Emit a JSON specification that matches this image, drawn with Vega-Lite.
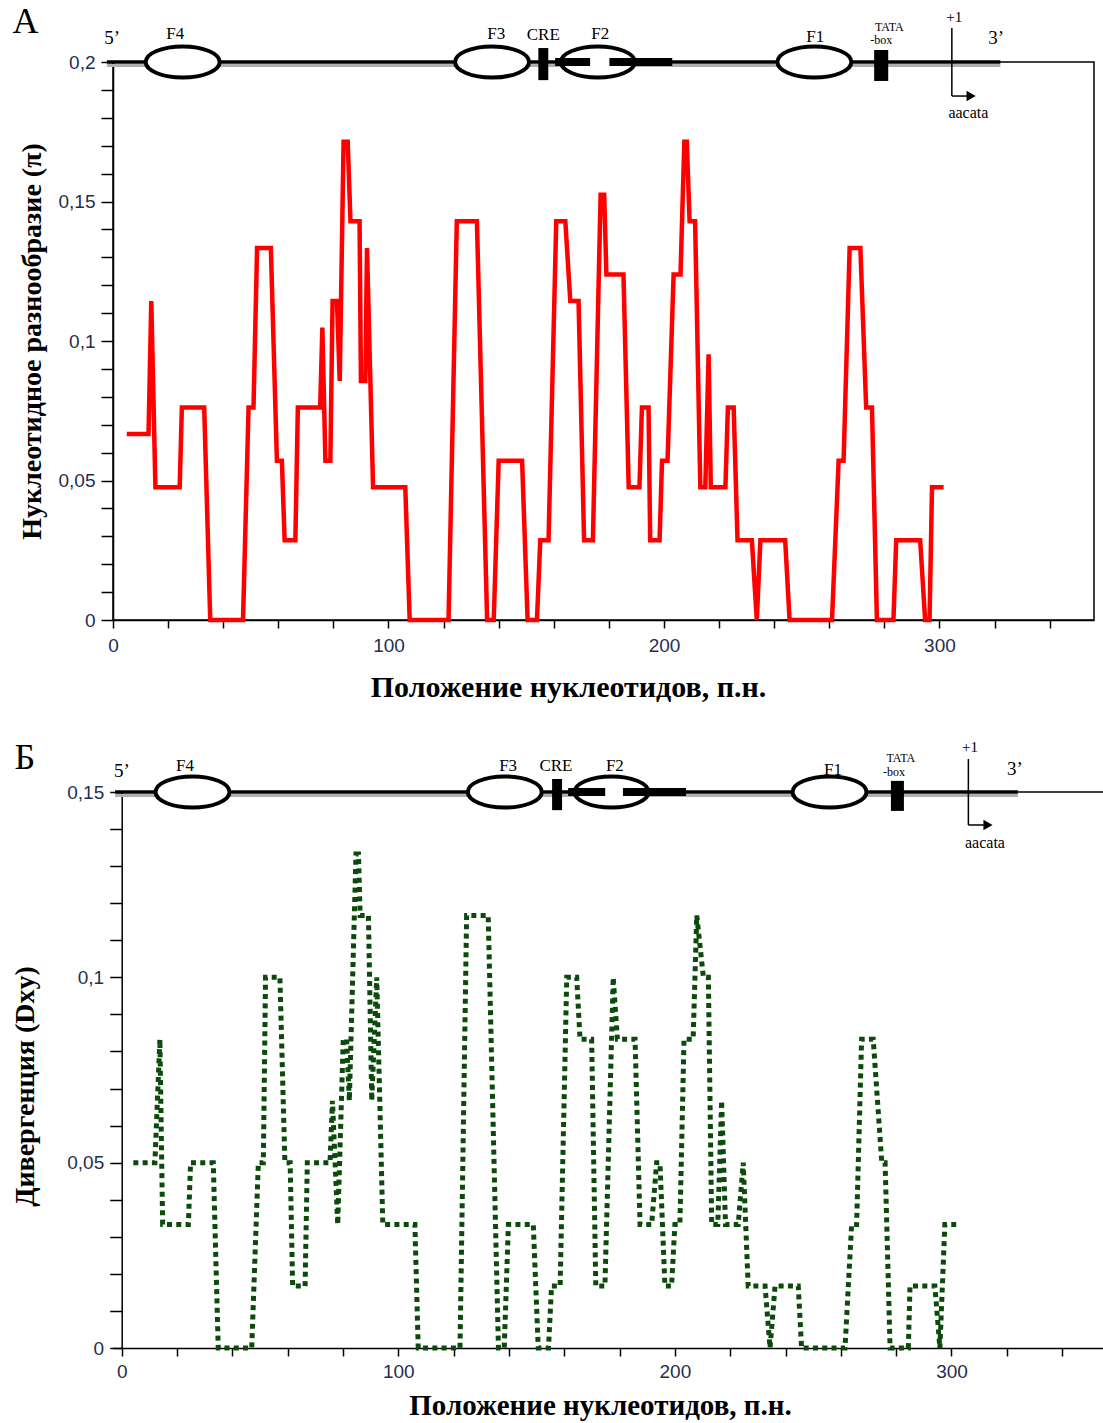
{
  "$schema": "https://vega.github.io/schema/vega-lite/v6.json",
  "autosize": {"type": "none"},
  "padding": {"left": 113, "top": 62, "right": 990, "bottom": 1361},
  "background": "white",
  "spacing": 36,
  "config": {
    "axis": {"domainColor": "black", "domainWidth": 1.5, "tickColor": "black", "tickWidth": 1.5, "grid": false,
      "labelFont": "Liberation Sans", "labelFontSize": 19, "labelColor": "#1f2f4f",
      "titleFont": "Liberation Serif", "titleFontWeight": "bold", "titleFontSize": 28, "titleColor": "black",
      "labelFlush": false, "labelOverlap": false},
    "text": {"font": "Liberation Serif", "color": "black"}
  },
  "datasets": {
    "pi": [
      {"pos":5,"pi":0.0667},{"pos":12.9,"pi":0.0667},{"pos":13.9,"pi":0.1143},{"pos":15.4,"pi":0.0476},{"pos":24.2,"pi":0.0476},
      {"pos":25.0,"pi":0.0762},{"pos":33.1,"pi":0.0762},{"pos":35.3,"pi":0},{"pos":47.2,"pi":0},{"pos":49.2,"pi":0.0762},
      {"pos":51.0,"pi":0.0762},{"pos":52.3,"pi":0.1333},{"pos":57.3,"pi":0.1333},{"pos":59.5,"pi":0.0571},{"pos":61.3,"pi":0.0571},
      {"pos":62.3,"pi":0.0286},{"pos":66.2,"pi":0.0286},{"pos":67.1,"pi":0.0762},{"pos":75.2,"pi":0.0762},{"pos":76.0,"pi":0.1048},
      {"pos":77.1,"pi":0.0571},{"pos":78.9,"pi":0.0571},{"pos":79.7,"pi":0.1143},{"pos":81.3,"pi":0.1143},{"pos":82.3,"pi":0.0857},
      {"pos":83.7,"pi":0.1714},{"pos":85.2,"pi":0.1714},{"pos":86.2,"pi":0.1429},{"pos":89.5,"pi":0.1429},{"pos":90.0,"pi":0.0857},
      {"pos":91.6,"pi":0.0857},{"pos":92.2,"pi":0.1333},{"pos":94.4,"pi":0.0476},{"pos":106.1,"pi":0.0476},{"pos":107.7,"pi":0},
      {"pos":121.8,"pi":0},{"pos":124.8,"pi":0.1429},{"pos":132.1,"pi":0.1429},{"pos":135.8,"pi":0},{"pos":138.2,"pi":0},
      {"pos":140.0,"pi":0.0571},{"pos":148.5,"pi":0.0571},{"pos":150.5,"pi":0},{"pos":153.9,"pi":0},{"pos":155.1,"pi":0.0286},
      {"pos":158.1,"pi":0.0286},{"pos":160.9,"pi":0.1429},{"pos":164.2,"pi":0.1429},{"pos":166.0,"pi":0.1143},{"pos":169.0,"pi":0.1143},
      {"pos":171.0,"pi":0.0286},{"pos":174.2,"pi":0.0286},{"pos":177.0,"pi":0.1524},{"pos":178.3,"pi":0.1524},{"pos":179.1,"pi":0.1238},
      {"pos":185.3,"pi":0.1238},{"pos":187.2,"pi":0.0476},{"pos":191.1,"pi":0.0476},{"pos":192.0,"pi":0.0762},{"pos":194.4,"pi":0.0762},
      {"pos":195.0,"pi":0.0286},{"pos":198.4,"pi":0.0286},{"pos":199.3,"pi":0.0571},{"pos":201.3,"pi":0.0571},{"pos":203.5,"pi":0.1238},
      {"pos":206.0,"pi":0.1238},{"pos":207.4,"pi":0.1714},{"pos":208.3,"pi":0.1714},{"pos":209.3,"pi":0.1429},{"pos":211.3,"pi":0.1429},
      {"pos":213.2,"pi":0.0476},{"pos":215.0,"pi":0.0476},{"pos":216.2,"pi":0.0952},{"pos":217.0,"pi":0.0476},{"pos":222.3,"pi":0.0476},
      {"pos":223.2,"pi":0.0762},{"pos":225.3,"pi":0.0762},{"pos":226.7,"pi":0.0286},{"pos":231.9,"pi":0.0286},{"pos":233.7,"pi":0},
      {"pos":235.0,"pi":0.0286},{"pos":244.0,"pi":0.0286},{"pos":245.6,"pi":0},{"pos":261.0,"pi":0},{"pos":263.4,"pi":0.0571},
      {"pos":265.2,"pi":0.0571},{"pos":267.4,"pi":0.1333},{"pos":271.3,"pi":0.1333},{"pos":273.4,"pi":0.0762},{"pos":275.5,"pi":0.0762},
      {"pos":277.3,"pi":0},{"pos":283.3,"pi":0},{"pos":284.3,"pi":0.0286},{"pos":293.0,"pi":0.0286},{"pos":294.8,"pi":0},
      {"pos":296.4,"pi":0},{"pos":297.3,"pi":0.0476},{"pos":301.5,"pi":0.0476}
    ],
    "dxy": [
      {"pos":4.2,"dxy":0.05},{"pos":12.0,"dxy":0.05},{"pos":13.8,"dxy":0.0833},{"pos":14.8,"dxy":0.0333},{"pos":24.1,"dxy":0.0333},
      {"pos":24.9,"dxy":0.05},{"pos":33.1,"dxy":0.05},{"pos":34.9,"dxy":0},{"pos":47.0,"dxy":0},{"pos":49.4,"dxy":0.05},
      {"pos":51.2,"dxy":0.05},{"pos":52.0,"dxy":0.1},{"pos":57.2,"dxy":0.1},{"pos":59.0,"dxy":0.05},{"pos":60.9,"dxy":0.05},
      {"pos":61.8,"dxy":0.0167},{"pos":66.3,"dxy":0.0167},{"pos":67.1,"dxy":0.05},{"pos":75.3,"dxy":0.05},{"pos":76.2,"dxy":0.0667},
      {"pos":78.1,"dxy":0.0333},{"pos":80.1,"dxy":0.0833},{"pos":81.3,"dxy":0.0833},{"pos":82.3,"dxy":0.0667},{"pos":84.7,"dxy":0.1333},
      {"pos":85.6,"dxy":0.1333},{"pos":86.2,"dxy":0.1167},{"pos":89.2,"dxy":0.1167},{"pos":90.4,"dxy":0.0667},{"pos":92.2,"dxy":0.1},
      {"pos":94.4,"dxy":0.0333},{"pos":106.0,"dxy":0.0333},{"pos":107.2,"dxy":0},{"pos":122.3,"dxy":0},{"pos":124.7,"dxy":0.1167},
      {"pos":132.5,"dxy":0.1167},{"pos":136.2,"dxy":0},{"pos":138.3,"dxy":0},{"pos":139.8,"dxy":0.0333},{"pos":148.8,"dxy":0.0333},
      {"pos":150.6,"dxy":0},{"pos":154.3,"dxy":0},{"pos":155.4,"dxy":0.0167},{"pos":158.5,"dxy":0.0167},{"pos":160.9,"dxy":0.1},
      {"pos":164.5,"dxy":0.1},{"pos":165.7,"dxy":0.0833},{"pos":169.9,"dxy":0.0833},{"pos":171.4,"dxy":0.0167},{"pos":174.7,"dxy":0.0167},
      {"pos":177.7,"dxy":0.1},{"pos":179.2,"dxy":0.0833},{"pos":185.6,"dxy":0.0833},{"pos":187.4,"dxy":0.0333},{"pos":191.6,"dxy":0.0333},
      {"pos":193.4,"dxy":0.05},{"pos":194.6,"dxy":0.05},{"pos":196.4,"dxy":0.0167},{"pos":198.8,"dxy":0.0167},{"pos":200.0,"dxy":0.0333},
      {"pos":201.8,"dxy":0.0333},{"pos":203.3,"dxy":0.0833},{"pos":206.6,"dxy":0.0833},{"pos":207.9,"dxy":0.1167},{"pos":210.3,"dxy":0.1},
      {"pos":212.1,"dxy":0.1},{"pos":213.3,"dxy":0.0333},{"pos":215.5,"dxy":0.0333},{"pos":216.9,"dxy":0.0667},{"pos":218.3,"dxy":0.0333},
      {"pos":222.9,"dxy":0.0333},{"pos":224.7,"dxy":0.05},{"pos":226.5,"dxy":0.0167},{"pos":232.6,"dxy":0.0167},{"pos":234.4,"dxy":0},
      {"pos":236.2,"dxy":0.0167},{"pos":244.6,"dxy":0.0167},{"pos":245.8,"dxy":0},{"pos":261.5,"dxy":0},{"pos":263.9,"dxy":0.0333},
      {"pos":265.7,"dxy":0.0333},{"pos":267.5,"dxy":0.0833},{"pos":271.7,"dxy":0.0833},{"pos":274.8,"dxy":0.05},{"pos":276.0,"dxy":0.05},
      {"pos":277.8,"dxy":0},{"pos":284.4,"dxy":0},{"pos":285.0,"dxy":0.0167},{"pos":294.0,"dxy":0.0167},{"pos":295.8,"dxy":0},
      {"pos":297.6,"dxy":0.0333},{"pos":302.5,"dxy":0.0333}
    ],
    "geneA": [
      {"kind":"shadow","x":-2.2,"x2":322.1,"y":0.19875,"y2":0.19875},
      {"kind":"backbone","x":-2.2,"x2":322.1,"y":0.2,"y2":0.2},
      {"kind":"ellipse","name":"F4","x":25.3,"y":0.2},
      {"kind":"ellipse","name":"F3","x":137.6,"y":0.2},
      {"kind":"ellipse","name":"F2","x":176.0,"y":0.2},
      {"kind":"ellipse","name":"F1","x":254.6,"y":0.2},
      {"kind":"bar","x":160.5,"x2":173.2,"y":0.2,"y2":0.2},
      {"kind":"bar","x":180.2,"x2":203.0,"y":0.2,"y2":0.2},
      {"kind":"box","name":"CRE","x":154.4,"x2":158.0,"y":0.1935,"y2":0.2050},
      {"kind":"box","name":"TATA","x":276.3,"x2":281.4,"y":0.1932,"y2":0.2043},
      {"kind":"arrow","x":304.5,"x2":304.5,"y":0.1878,"y2":0.2122},
      {"kind":"arrow","x":304.5,"x2":310.0,"y":0.1878,"y2":0.1878},
      {"kind":"head","x":311.5,"y":0.1878},
      {"kind":"text","role":"panel","txt":"А","x":-31.8,"y":0.2143},
      {"kind":"text","role":"end","txt":"5’","x":-0.3,"y":0.2086},
      {"kind":"text","role":"name","txt":"F4","x":22.6,"y":0.2100},
      {"kind":"text","role":"name","txt":"F3","x":139.1,"y":0.2100},
      {"kind":"text","role":"name","txt":"CRE","x":156.2,"y":0.2097},
      {"kind":"text","role":"name","txt":"F2","x":176.9,"y":0.2100},
      {"kind":"text","role":"name","txt":"F1","x":254.9,"y":0.2090},
      {"kind":"text","role":"small","txt":"TATA","x":281.8,"y":0.2127},
      {"kind":"text","role":"small","txt":"-box","x":278.9,"y":0.2080},
      {"kind":"text","role":"plus","txt":"+1","x":305.4,"y":0.2161},
      {"kind":"text","role":"seq","txt":"aacata","x":310.5,"y":0.1817},
      {"kind":"text","role":"end","txt":"3’","x":320.6,"y":0.2086}
    ],
    "geneB": [
      {"kind":"shadow","x":-2.4,"x2":324.0,"y":0.14906,"y2":0.14906},
      {"kind":"backbone","x":-2.4,"x2":324.0,"y":0.15,"y2":0.15},
      {"kind":"thin","x":324.0,"x2":355.5,"y":0.15,"y2":0.15},
      {"kind":"ellipse","name":"F4","x":25.6,"y":0.15},
      {"kind":"ellipse","name":"F3","x":138.5,"y":0.15},
      {"kind":"ellipse","name":"F2","x":177.1,"y":0.15},
      {"kind":"ellipse","name":"F1","x":255.9,"y":0.15},
      {"kind":"bar","x":161.4,"x2":174.8,"y":0.15,"y2":0.15},
      {"kind":"bar","x":181.2,"x2":204.0,"y":0.15,"y2":0.15},
      {"kind":"box","name":"CRE","x":155.6,"x2":159.2,"y":0.1451,"y2":0.1535},
      {"kind":"box","name":"TATA","x":278.1,"x2":282.8,"y":0.1449,"y2":0.1530},
      {"kind":"arrow","x":306.1,"x2":306.1,"y":0.1411,"y2":0.1589},
      {"kind":"arrow","x":306.1,"x2":311.8,"y":0.1411,"y2":0.1411},
      {"kind":"head","x":313.2,"y":0.1411},
      {"kind":"text","role":"panel","txt":"Б","x":-35.0,"y":0.1592},
      {"kind":"text","role":"end","txt":"5’","x":0.1,"y":0.1557},
      {"kind":"text","role":"name","txt":"F4","x":22.9,"y":0.1570},
      {"kind":"text","role":"name","txt":"F3","x":139.7,"y":0.1570},
      {"kind":"text","role":"name","txt":"CRE","x":157.0,"y":0.1570},
      {"kind":"text","role":"name","txt":"F2","x":178.3,"y":0.1570},
      {"kind":"text","role":"name","txt":"F1","x":257.2,"y":0.1559},
      {"kind":"text","role":"small","txt":"TATA","x":281.7,"y":0.1591},
      {"kind":"text","role":"small","txt":"-box","x":279.2,"y":0.1553},
      {"kind":"text","role":"plus","txt":"+1","x":306.7,"y":0.1621},
      {"kind":"text","role":"seq","txt":"aacata","x":312.1,"y":0.1362},
      {"kind":"text","role":"end","txt":"3’","x":322.9,"y":0.1562}
    ]
  },
  "vconcat": [
    {
      "width": 981,
      "height": 558,
      "view": {"stroke": "black", "strokeWidth": 1.5},
      "layer": [
        {
          "data": {"name": "pi"},
          "mark": {"type": "line", "color": "#ff0000", "strokeWidth": 4.5, "strokeJoin": "miter"},
          "encoding": {
            "x": {"field": "pos", "type": "quantitative",
              "scale": {"domain": [0, 356.1], "nice": false, "zero": false},
              "axis": {"title": "Положение нуклеотидов, п.н.", "tickCount": 100, "values": [0,20,40,60,80,100,120,140,160,180,200,220,240,260,280,300,320,340],
                "labelExpr": "datum.value % 100 === 0 ? datum.label : ''", "labelOverlap": false, "tickSize": 8, "labelPadding": 8, "titlePadding": 17, "titleFontSize": 30, "titleX": 455, "titleAlign": "center"}},
            "y": {"field": "pi", "type": "quantitative",
              "scale": {"domain": [0, 0.2], "nice": false, "zero": true},
              "axis": {"title": "Нуклеотидное разнообразие (π)", "tickCount": 100, "values": [0,0.01,0.02,0.03,0.04,0.05,0.06,0.07,0.08,0.09,0.1,0.11,0.12,0.13,0.14,0.15,0.16,0.17,0.18,0.19,0.2],
                "labelExpr": "round(datum.value*100) % 5 === 0 ? replace(format(datum.value, '.2~f'), '.', ',') : ''", "labelOverlap": false, "tickSize": 12, "labelPadding": 6, "titlePadding": 12}}
          }
        },
        {
          "data": {"name": "geneA"},
          "transform": [{"filter": "datum.kind === 'shadow'"}],
          "mark": {"type": "rule", "color": "#b0b0b0", "strokeWidth": 3},
          "encoding": {"x": {"field": "x", "type": "quantitative"}, "x2": {"field": "x2"}, "y": {"field": "y", "type": "quantitative"}, "y2": {"field": "y2"}}
        },
        {
          "data": {"name": "geneA"},
          "transform": [{"filter": "datum.kind === 'backbone'"}],
          "mark": {"type": "rule", "color": "black", "strokeWidth": 3.5},
          "encoding": {"x": {"field": "x", "type": "quantitative"}, "x2": {"field": "x2"}, "y": {"field": "y", "type": "quantitative"}, "y2": {"field": "y2"}}
        },
        {
          "data": {"name": "geneA"},
          "transform": [{"filter": "datum.kind === 'ellipse'"}],
          "mark": {"type": "point", "shape": "M-1,0 C-1,-0.232 -0.552,-0.42 0,-0.42 C0.552,-0.42 1,-0.232 1,0 C1,0.232 0.552,0.42 0,0.42 C-0.552,0.42 -1,0.232 -1,0 Z",
            "size": 5476, "fill": "white", "stroke": "black", "strokeWidth": 4, "opacity": 1, "fillOpacity": 1},
          "encoding": {"x": {"field": "x", "type": "quantitative"}, "y": {"field": "y", "type": "quantitative"}}
        },
        {
          "data": {"name": "geneA"},
          "transform": [{"filter": "datum.kind === 'bar'"}],
          "mark": {"type": "rule", "color": "black", "strokeWidth": 8},
          "encoding": {"x": {"field": "x", "type": "quantitative"}, "x2": {"field": "x2"}, "y": {"field": "y", "type": "quantitative"}, "y2": {"field": "y2"}}
        },
        {
          "data": {"name": "geneA"},
          "transform": [{"filter": "datum.kind === 'box'"}],
          "mark": {"type": "rect", "color": "black"},
          "encoding": {"x": {"field": "x", "type": "quantitative"}, "x2": {"field": "x2"}, "y": {"field": "y", "type": "quantitative"}, "y2": {"field": "y2"}}
        },
        {
          "data": {"name": "geneA"},
          "transform": [{"filter": "datum.kind === 'arrow' || datum.kind === 'thin'"}],
          "mark": {"type": "rule", "color": "black", "strokeWidth": 1.5},
          "encoding": {"x": {"field": "x", "type": "quantitative"}, "x2": {"field": "x2"}, "y": {"field": "y", "type": "quantitative"}, "y2": {"field": "y2"}}
        },
        {
          "data": {"name": "geneA"},
          "transform": [{"filter": "datum.kind === 'head'"}],
          "mark": {"type": "point", "shape": "triangle-right", "size": 110, "filled": true, "color": "black", "opacity": 1},
          "encoding": {"x": {"field": "x", "type": "quantitative"}, "y": {"field": "y", "type": "quantitative"}}
        },
        {
          "data": {"name": "geneA"},
          "transform": [{"filter": "datum.kind === 'text'"}],
          "mark": {"type": "text", "align": "center", "baseline": "middle", "font": "Liberation Serif", "color": "black"},
          "encoding": {"x": {"field": "x", "type": "quantitative"}, "y": {"field": "y", "type": "quantitative"}, "text": {"field": "txt"},
            "size": {"field": "role", "type": "nominal", "scale": {"type": "ordinal", "domain": ["panel","end","name","small","plus","seq"], "range": [36,19,17,12,15,16]}, "legend": null}}
        }
      ]
    },
    {
      "width": 992,
      "height": 556,
      "view": {"stroke": null},
      "layer": [
        {
          "data": {"name": "dxy"},
          "mark": {"type": "line", "color": "#0b4a0b", "strokeWidth": 5, "strokeDash": [5, 4.3]},
          "encoding": {
            "x": {"field": "pos", "type": "quantitative",
              "scale": {"domain": [-3.15, 355.5], "nice": false, "zero": false},
              "axis": {"title": "Положение нуклеотидов, п.н.", "tickCount": 100, "values": [0,20,40,60,80,100,120,140,160,180,200,220,240,260,280,300,320,340],
                "labelExpr": "datum.value % 100 === 0 ? datum.label : ''", "labelOverlap": false, "tickSize": 8, "labelPadding": 6, "titlePadding": 10, "titleFontSize": 29, "titleX": 487, "titleAlign": "center"}},
            "y": {"field": "dxy", "type": "quantitative",
              "scale": {"domain": [0, 0.15], "nice": false, "zero": true},
              "axis": {"title": "Дивергенция (Dxy)", "tickCount": 100, "values": [0,0.01,0.02,0.03,0.04,0.05,0.06,0.07,0.08,0.09,0.1,0.11,0.12,0.13,0.14,0.15],
                "labelExpr": "round(datum.value*100) % 5 === 0 ? replace(format(datum.value, '.2~f'), '.', ',') : ''", "labelOverlap": false, "tickSize": 12, "labelPadding": 6, "titlePadding": 27, "offset": -8.7, "titleY": 294}}
          }
        },
        {
          "data": {"name": "geneB"},
          "transform": [{"filter": "datum.kind === 'shadow'"}],
          "mark": {"type": "rule", "color": "#b0b0b0", "strokeWidth": 3},
          "encoding": {"x": {"field": "x", "type": "quantitative"}, "x2": {"field": "x2"}, "y": {"field": "y", "type": "quantitative"}, "y2": {"field": "y2"}}
        },
        {
          "data": {"name": "geneB"},
          "transform": [{"filter": "datum.kind === 'backbone'"}],
          "mark": {"type": "rule", "color": "black", "strokeWidth": 3.5},
          "encoding": {"x": {"field": "x", "type": "quantitative"}, "x2": {"field": "x2"}, "y": {"field": "y", "type": "quantitative"}, "y2": {"field": "y2"}}
        },
        {
          "data": {"name": "geneB"},
          "transform": [{"filter": "datum.kind === 'ellipse'"}],
          "mark": {"type": "point", "shape": "M-1,0 C-1,-0.232 -0.552,-0.42 0,-0.42 C0.552,-0.42 1,-0.232 1,0 C1,0.232 0.552,0.42 0,0.42 C-0.552,0.42 -1,0.232 -1,0 Z",
            "size": 5476, "fill": "white", "stroke": "black", "strokeWidth": 4, "opacity": 1, "fillOpacity": 1},
          "encoding": {"x": {"field": "x", "type": "quantitative"}, "y": {"field": "y", "type": "quantitative"}}
        },
        {
          "data": {"name": "geneB"},
          "transform": [{"filter": "datum.kind === 'bar'"}],
          "mark": {"type": "rule", "color": "black", "strokeWidth": 8},
          "encoding": {"x": {"field": "x", "type": "quantitative"}, "x2": {"field": "x2"}, "y": {"field": "y", "type": "quantitative"}, "y2": {"field": "y2"}}
        },
        {
          "data": {"name": "geneB"},
          "transform": [{"filter": "datum.kind === 'box'"}],
          "mark": {"type": "rect", "color": "black"},
          "encoding": {"x": {"field": "x", "type": "quantitative"}, "x2": {"field": "x2"}, "y": {"field": "y", "type": "quantitative"}, "y2": {"field": "y2"}}
        },
        {
          "data": {"name": "geneB"},
          "transform": [{"filter": "datum.kind === 'arrow' || datum.kind === 'thin'"}],
          "mark": {"type": "rule", "color": "black", "strokeWidth": 1.5},
          "encoding": {"x": {"field": "x", "type": "quantitative"}, "x2": {"field": "x2"}, "y": {"field": "y", "type": "quantitative"}, "y2": {"field": "y2"}}
        },
        {
          "data": {"name": "geneB"},
          "transform": [{"filter": "datum.kind === 'head'"}],
          "mark": {"type": "point", "shape": "triangle-right", "size": 110, "filled": true, "color": "black", "opacity": 1},
          "encoding": {"x": {"field": "x", "type": "quantitative"}, "y": {"field": "y", "type": "quantitative"}}
        },
        {
          "data": {"name": "geneB"},
          "transform": [{"filter": "datum.kind === 'text'"}],
          "mark": {"type": "text", "align": "center", "baseline": "middle", "font": "Liberation Serif", "color": "black"},
          "encoding": {"x": {"field": "x", "type": "quantitative"}, "y": {"field": "y", "type": "quantitative"}, "text": {"field": "txt"},
            "size": {"field": "role", "type": "nominal", "scale": {"type": "ordinal", "domain": ["panel","end","name","small","plus","seq"], "range": [36,19,17,12,15,16]}, "legend": null}}
        }
      ]
    }
  ]
}
